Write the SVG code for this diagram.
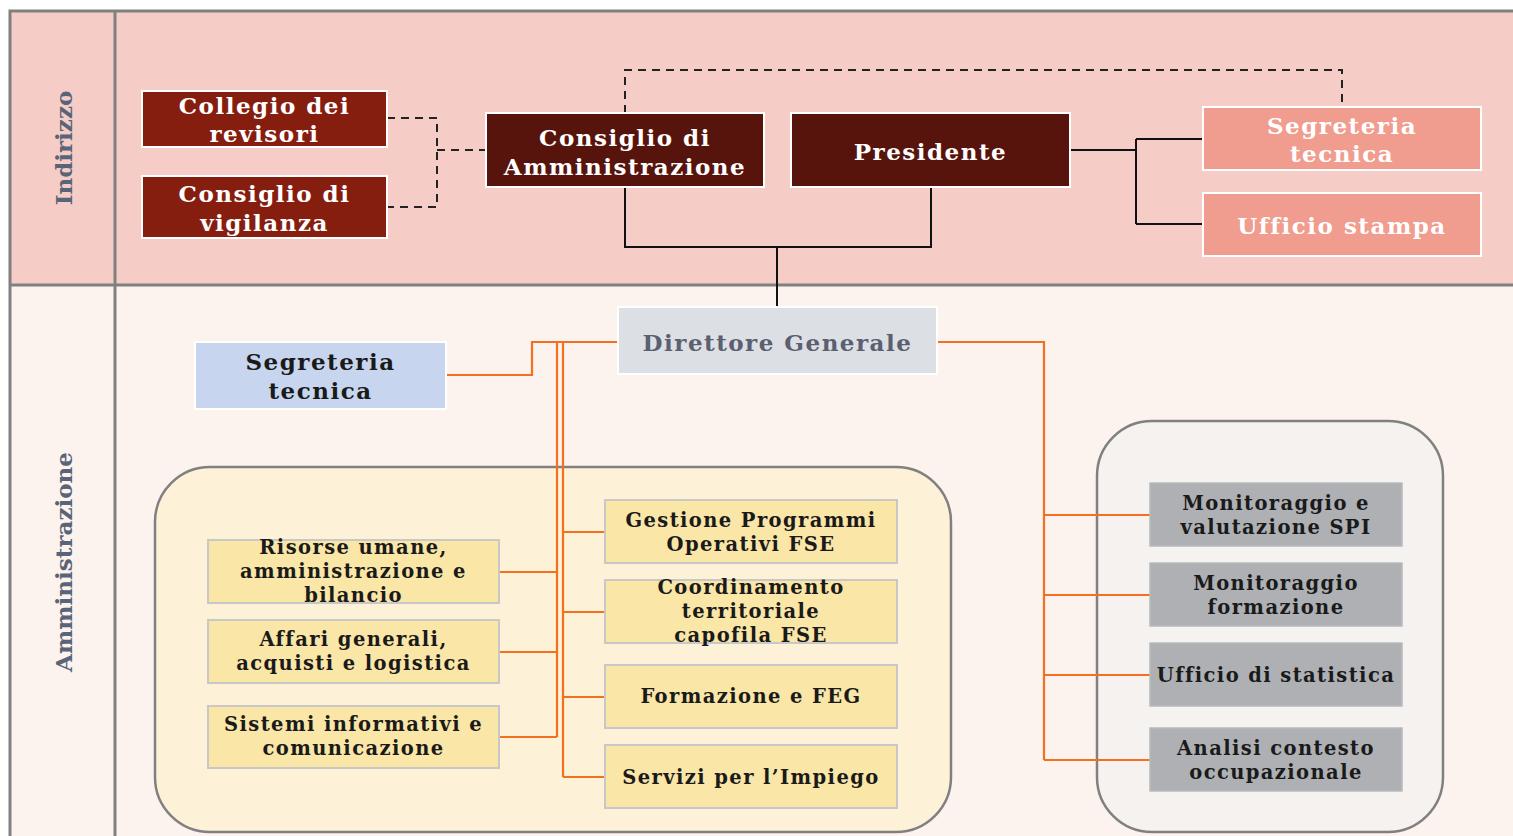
<svg xmlns="http://www.w3.org/2000/svg" width="1513" height="836" viewBox="0 0 1513 836">
<defs>
<style>
.t{font-family:"DejaVu Serif","Liberation Serif",serif;font-weight:bold;text-anchor:middle}
.w{fill:#ffffff}
.big{font-size:23px;letter-spacing:1.5px}
.sm{font-size:19.5px;letter-spacing:1.4px}
.k{fill:#1a1a1a}
.dark{fill:#861E10;stroke:#ffffff;stroke-width:2}
.darker{fill:#57140C;stroke:#ffffff;stroke-width:2}
.salmon{fill:#F09C8E;stroke:#ffffff;stroke-width:2}
.yel{fill:#FAE6A6;stroke:#C8C8C8;stroke-width:2}
.gry{fill:#AEB0B4;stroke:#B8BABD;stroke-width:1.5}
.blk{fill:none;stroke:#111;stroke-width:2}
.dash{fill:none;stroke:#222;stroke-width:2;stroke-dasharray:8,6}
.or{fill:none;stroke:#F37021;stroke-width:2.2}
</style>
</defs>
<rect width="1513" height="836" fill="#ffffff"/>
<!-- bands -->
<g id="bands">
<rect x="10" y="11" width="1510" height="274" fill="#F6CDC6"/>
<rect x="10" y="285" width="1510" height="560" fill="#FCF3EE"/>
<path d="M10,845 V11 H1520 M115,11 V845 M10,285 H1520" fill="none" stroke="#808080" stroke-width="3"/>
<text class="t" transform="translate(72,148) rotate(-90)" font-size="23" fill="#5A6478">Indirizzo</text>
<text class="t" transform="translate(72,562) rotate(-90)" font-size="23" fill="#5A6478">Amministrazione</text>
</g>
<!-- containers -->
<g id="container-left"><rect x="155" y="467" width="796" height="365" rx="55" fill="#FDF2D8" stroke="#808080" stroke-width="2.5"/></g>
<g id="container-right"><rect x="1097" y="421" width="346" height="411" rx="55" fill="#F5F2EF" stroke="#808080" stroke-width="2.5"/></g>
<!-- connectors -->
<g id="connectors">
<path class="dash" d="M387,118 H437 V207 H387 M437,150 H486"/>
<path class="dash" d="M625,113 V70 H1342 V107"/>
<path class="blk" d="M625,187 V247 H931 V187 M777,247 V307"/>
<path class="blk" d="M1070,150 H1136 M1136,139 V224 M1136,139 H1203 M1136,224 H1203"/>
<path class="or" d="M446,375 H532 V342 H618"/>
<path class="or" d="M557,342 V737 M563,342 V777"/>
<path class="or" d="M500,572 H557 M500,652 H557 M500,737 H557"/>
<path class="or" d="M563,532 H605 M563,612 H605 M563,697 H605 M563,777 H605"/>
<path class="or" d="M937,342 H1044 V760 M1044,515 H1150 M1044,595 H1150 M1044,675 H1150 M1044,760 H1150"/>
</g>
<!-- top nodes -->
<g id="collegio"><rect class="dark" x="142" y="91" width="245" height="56"/>
<text class="t w big" x="264.5" y="114">Collegio dei</text><text class="t w big" x="264.5" y="142">revisori</text></g>
<g id="vigilanza"><rect class="dark" x="142" y="176" width="245" height="62"/>
<text class="t w big" x="264.5" y="202">Consiglio di</text><text class="t w big" x="264.5" y="231">vigilanza</text></g>
<g id="cda"><rect class="darker" x="486" y="113" width="278" height="74"/>
<text class="t w big" x="625" y="146">Consiglio di</text><text class="t w big" x="625" y="175">Amministrazione</text></g>
<g id="presidente"><rect class="darker" x="791" y="113" width="279" height="74"/>
<text class="t w big" x="930.5" y="160">Presidente</text></g>
<g id="segreteria-top"><rect class="salmon" x="1203" y="107" width="278" height="63"/>
<text class="t w big" x="1342" y="134">Segreteria</text><text class="t w big" x="1342" y="162">tecnica</text></g>
<g id="ufficio-stampa"><rect class="salmon" x="1203" y="193" width="278" height="63"/>
<text class="t w big" x="1342" y="234">Ufficio stampa</text></g>
<!-- DG -->
<g id="dg"><rect x="618" y="307" width="319" height="67" fill="#DCDFE3" stroke="#ffffff" stroke-width="2"/>
<text class="t big" x="777.5" y="351" fill="#5A6070" letter-spacing="1">Direttore Generale</text></g>
<g id="segreteria-blue"><rect x="195" y="342" width="251" height="67" fill="#C7D6EE" stroke="#ffffff" stroke-width="2"/>
<text class="t big k" x="320.5" y="370">Segreteria</text><text class="t big k" x="320.5" y="399">tecnica</text></g>
<!-- left yellow -->
<g id="risorse"><rect class="yel" x="208" y="540" width="291" height="63"/>
<text class="t sm k" x="353.5" y="554">Risorse umane,</text><text class="t sm k" x="353.5" y="578">amministrazione e</text><text class="t sm k" x="353.5" y="602">bilancio</text></g>
<g id="affari"><rect class="yel" x="208" y="620" width="291" height="63"/>
<text class="t sm k" x="353.5" y="646">Affari generali,</text><text class="t sm k" x="353.5" y="670">acquisti e logistica</text></g>
<g id="sistemi"><rect class="yel" x="208" y="706" width="291" height="62"/>
<text class="t sm k" x="353.5" y="731">Sistemi informativi e</text><text class="t sm k" x="353.5" y="755">comunicazione</text></g>
<!-- right yellow -->
<g id="gestione"><rect class="yel" x="605" y="500" width="292" height="63"/>
<text class="t sm k" x="751" y="527">Gestione Programmi</text><text class="t sm k" x="751" y="551">Operativi FSE</text></g>
<g id="coordinamento"><rect class="yel" x="605" y="580" width="292" height="63"/>
<text class="t sm k" x="751" y="594">Coordinamento</text><text class="t sm k" x="751" y="618">territoriale</text><text class="t sm k" x="751" y="642">capofila FSE</text></g>
<g id="formazione"><rect class="yel" x="605" y="665" width="292" height="63"/>
<text class="t sm k" x="751" y="703">Formazione e FEG</text></g>
<g id="servizi"><rect class="yel" x="605" y="745" width="292" height="63"/>
<text class="t sm k" x="751" y="784">Servizi per l’Impiego</text></g>
<!-- grey -->
<g id="monit-spi"><rect class="gry" x="1150" y="483" width="252" height="63"/>
<text class="t sm k" x="1276" y="510">Monitoraggio e</text><text class="t sm k" x="1276" y="534">valutazione SPI</text></g>
<g id="monit-form"><rect class="gry" x="1150" y="563" width="252" height="63"/>
<text class="t sm k" x="1276" y="590">Monitoraggio</text><text class="t sm k" x="1276" y="614">formazione</text></g>
<g id="statistica"><rect class="gry" x="1150" y="643" width="252" height="63"/>
<text class="t sm k" x="1276" y="682">Ufficio di statistica</text></g>
<g id="analisi"><rect class="gry" x="1150" y="728" width="252" height="63"/>
<text class="t sm k" x="1276" y="755">Analisi contesto</text><text class="t sm k" x="1276" y="779">occupazionale</text></g>
</svg>
